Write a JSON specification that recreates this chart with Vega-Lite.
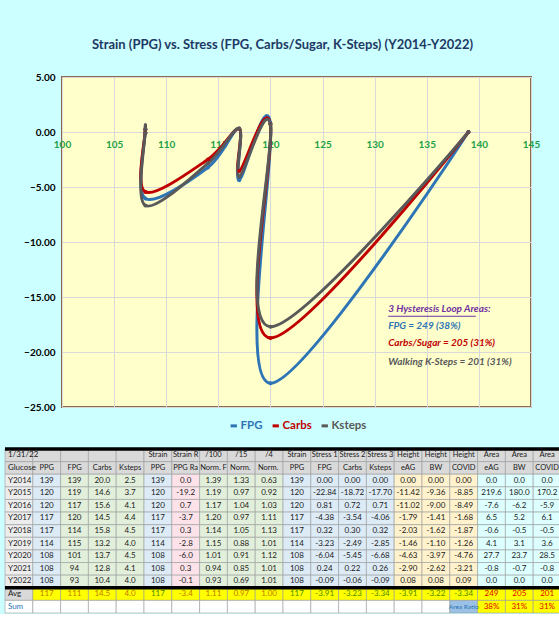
{
  "$schema": "https://vega.github.io/schema/vega-lite/v6.json",
  "background": "#CCFFFF",
  "padding": {"left": 3, "top": 38, "right": 0, "bottom": 0},
  "spacing": 14,
  "config": {"font": "Lato, Roboto, sans-serif", "view": {"stroke": null}},
  "resolve": {"scale": {"color": "independent", "fill": "independent"}, "legend": {"color": "independent", "fill": "independent"}},
  "datasets": {
    "curves": [
      {"series": "FPG", "year": 2014, "ppg": 139, "stress": 0.00},
      {"series": "FPG", "year": 2015, "ppg": 120, "stress": -22.84},
      {"series": "FPG", "year": 2016, "ppg": 120, "stress": 0.81},
      {"series": "FPG", "year": 2017, "ppg": 117, "stress": -4.38},
      {"series": "FPG", "year": 2018, "ppg": 117, "stress": 0.32},
      {"series": "FPG", "year": 2019, "ppg": 114, "stress": -3.23},
      {"series": "FPG", "year": 2020, "ppg": 108, "stress": -6.04},
      {"series": "FPG", "year": 2021, "ppg": 108, "stress": 0.24},
      {"series": "FPG", "year": 2022, "ppg": 108, "stress": -0.09},
      {"series": "Carbs", "year": 2014, "ppg": 139, "stress": 0.00},
      {"series": "Carbs", "year": 2015, "ppg": 120, "stress": -18.72},
      {"series": "Carbs", "year": 2016, "ppg": 120, "stress": 0.72},
      {"series": "Carbs", "year": 2017, "ppg": 117, "stress": -3.54},
      {"series": "Carbs", "year": 2018, "ppg": 117, "stress": 0.30},
      {"series": "Carbs", "year": 2019, "ppg": 114, "stress": -2.49},
      {"series": "Carbs", "year": 2020, "ppg": 108, "stress": -5.45},
      {"series": "Carbs", "year": 2021, "ppg": 108, "stress": 0.22},
      {"series": "Carbs", "year": 2022, "ppg": 108, "stress": -0.06},
      {"series": "Ksteps", "year": 2014, "ppg": 139, "stress": 0.00},
      {"series": "Ksteps", "year": 2015, "ppg": 120, "stress": -17.70},
      {"series": "Ksteps", "year": 2016, "ppg": 120, "stress": 0.71},
      {"series": "Ksteps", "year": 2017, "ppg": 117, "stress": -4.06},
      {"series": "Ksteps", "year": 2018, "ppg": 117, "stress": 0.32},
      {"series": "Ksteps", "year": 2019, "ppg": 114, "stress": -2.85},
      {"series": "Ksteps", "year": 2020, "ppg": 108, "stress": -6.68},
      {"series": "Ksteps", "year": 2021, "ppg": 108, "stress": 0.26},
      {"series": "Ksteps", "year": 2022, "ppg": 108, "stress": -0.09}
    ],
    "notes": [
      {"x": 131.3, "y": -17.6, "label": "FPG = 249 (38%)", "series": "FPG"},
      {"x": 131.3, "y": -19.2, "label": "Carbs/Sugar = 205 (31%)", "series": "Carbs"},
      {"x": 131.3, "y": -20.9, "label": "Walking K-Steps = 201 (31%)", "series": "Ksteps"}
    ],
    "heading": [{"x": 131.3, "y": -16.1, "label": "3 Hysteresis Loop Areas:"}],
    "underline": [{"x": 131.3, "x2": 139.7, "y": -16.75}],
    "lines": [{"r": 0, "cs": 1, "ce": 20}, {"r": 11, "cs": 1, "ce": 20}],
    "table": [
      {"r": 0, "c01": "1/31/22", "c02": "", "c03": "", "c04": "", "c05": "", "c06": "Strain", "c07": "Strain Rate", "c08": "/100", "c09": "/15", "c10": "/4", "c11": "Strain", "c12": "Stress 1", "c13": "Stress 2", "c14": "Stress 3", "c15": "Height", "c16": "Height", "c17": "Height", "c18": "Area", "c19": "Area", "c20": "Area"},
      {"r": 1, "c01": "Glucose", "c02": "PPG", "c03": "FPG", "c04": "Carbs", "c05": "Ksteps", "c06": "PPG", "c07": "PPG Rate", "c08": "Norm. FPG", "c09": "Norm. Carbs", "c10": "Norm. Ksteps", "c11": "PPG", "c12": "FPG", "c13": "Carbs", "c14": "Ksteps", "c15": "eAG", "c16": "BW", "c17": "COVID", "c18": "eAG", "c19": "BW", "c20": "COVID"},
      {"r": 2, "c01": "Y2014", "c02": "139", "c03": "139", "c04": "20.0", "c05": "2.5", "c06": "139", "c07": "0.0", "c08": "1.39", "c09": "1.33", "c10": "0.63", "c11": "139", "c12": "0.00", "c13": "0.00", "c14": "0.00", "c15": "0.00", "c16": "0.00", "c17": "0.00", "c18": "0.0", "c19": "0.0", "c20": "0.0"},
      {"r": 3, "c01": "Y2015", "c02": "120", "c03": "119", "c04": "14.6", "c05": "3.7", "c06": "120", "c07": "-19.2", "c08": "1.19", "c09": "0.97", "c10": "0.92", "c11": "120", "c12": "-22.84", "c13": "-18.72", "c14": "-17.70", "c15": "-11.42", "c16": "-9.36", "c17": "-8.85", "c18": "219.6", "c19": "180.0", "c20": "170.2"},
      {"r": 4, "c01": "Y2016", "c02": "120", "c03": "117", "c04": "15.6", "c05": "4.1", "c06": "120", "c07": "0.7", "c08": "1.17", "c09": "1.04", "c10": "1.03", "c11": "120", "c12": "0.81", "c13": "0.72", "c14": "0.71", "c15": "-11.02", "c16": "-9.00", "c17": "-8.49", "c18": "-7.6", "c19": "-6.2", "c20": "-5.9"},
      {"r": 5, "c01": "Y2017", "c02": "117", "c03": "120", "c04": "14.5", "c05": "4.4", "c06": "117", "c07": "-3.7", "c08": "1.20", "c09": "0.97", "c10": "1.11", "c11": "117", "c12": "-4.38", "c13": "-3.54", "c14": "-4.06", "c15": "-1.79", "c16": "-1.41", "c17": "-1.68", "c18": "6.5", "c19": "5.2", "c20": "6.1"},
      {"r": 6, "c01": "Y2018", "c02": "117", "c03": "114", "c04": "15.8", "c05": "4.5", "c06": "117", "c07": "0.3", "c08": "1.14", "c09": "1.05", "c10": "1.13", "c11": "117", "c12": "0.32", "c13": "0.30", "c14": "0.32", "c15": "-2.03", "c16": "-1.62", "c17": "-1.87", "c18": "-0.6", "c19": "-0.5", "c20": "-0.5"},
      {"r": 7, "c01": "Y2019", "c02": "114", "c03": "115", "c04": "13.2", "c05": "4.0", "c06": "114", "c07": "-2.8", "c08": "1.15", "c09": "0.88", "c10": "1.01", "c11": "114", "c12": "-3.23", "c13": "-2.49", "c14": "-2.85", "c15": "-1.46", "c16": "-1.10", "c17": "-1.26", "c18": "4.1", "c19": "3.1", "c20": "3.6"},
      {"r": 8, "c01": "Y2020", "c02": "108", "c03": "101", "c04": "13.7", "c05": "4.5", "c06": "108", "c07": "-6.0", "c08": "1.01", "c09": "0.91", "c10": "1.12", "c11": "108", "c12": "-6.04", "c13": "-5.45", "c14": "-6.68", "c15": "-4.63", "c16": "-3.97", "c17": "-4.76", "c18": "27.7", "c19": "23.7", "c20": "28.5"},
      {"r": 9, "c01": "Y2021", "c02": "108", "c03": "94", "c04": "12.8", "c05": "4.1", "c06": "108", "c07": "0.3", "c08": "0.94", "c09": "0.85", "c10": "1.01", "c11": "108", "c12": "0.24", "c13": "0.22", "c14": "0.26", "c15": "-2.90", "c16": "-2.62", "c17": "-3.21", "c18": "-0.8", "c19": "-0.7", "c20": "-0.8"},
      {"r": 10, "c01": "Y2022", "c02": "108", "c03": "93", "c04": "10.4", "c05": "4.0", "c06": "108", "c07": "-0.1", "c08": "0.93", "c09": "0.69", "c10": "1.01", "c11": "108", "c12": "-0.09", "c13": "-0.06", "c14": "-0.09", "c15": "0.08", "c16": "0.08", "c17": "0.09", "c18": "0.0", "c19": "0.0", "c20": "0.0"},
      {"r": 11, "c01": "Avg", "c02": "117", "c03": "111", "c04": "14.5", "c05": "4.0", "c06": "117", "c07": "-3.4", "c08": "1.11", "c09": "0.97", "c10": "1.00", "c11": "117", "c12": "-3.91", "c13": "-3.23", "c14": "-3.34", "c15": "-3.91", "c16": "-3.22", "c17": "-3.34", "c18": "249", "c19": "205", "c20": "201"},
      {"r": 12, "c01": "Sum", "c02": "", "c03": "", "c04": "", "c05": "", "c06": "", "c07": "", "c08": "", "c09": "", "c10": "", "c11": "", "c12": "", "c13": "", "c14": "", "c15": "", "c16": "", "c17": "Area Ratio", "c18": "38%", "c19": "31%", "c20": "31%"}
    ]
  },
  "vconcat": [
    {
      "width": 469,
      "height": 330,
      "view": {"fill": "#FFFFCC", "stroke": "#8B6B4B", "strokeWidth": 2},
      "title": {"text": "Strain (PPG) vs. Stress (FPG, Carbs/Sugar, K-Steps)  (Y2014-Y2022)", "fontSize": 13, "fontWeight": "bold", "color": "#1F3864", "anchor": "middle", "frame": "group", "dx": -14, "offset": 20},
      "layer": [
        {
          "data": {"name": "curves"},
          "mark": {"type": "line", "interpolate": "cardinal", "tension": 0, "strokeWidth": 3, "strokeJoin": "round", "strokeCap": "round", "point": {"filled": true, "size": 16}},
          "encoding": {
            "x": {"field": "ppg", "type": "quantitative", "scale": {"domain": [100, 145], "nice": false, "zero": false},
              "axis": {"orient": "bottom", "offset": -275, "values": [100, 105, 110, 115, 120, 125, 130, 135, 140, 145], "format": "d", "title": null, "ticks": false, "domain": false, "labelColor": "#22A045", "labelFontSize": 10, "labelFontWeight": "bold", "labelPadding": 7, "labelOverlap": false, "labelFlush": false, "grid": true, "gridColor": "#D9D9D9", "gridWidth": 1}},
            "y": {"field": "stress", "type": "quantitative", "scale": {"domain": [-25, 5], "nice": false, "zero": false},
              "axis": {"values": [-25, -20, -15, -10, -5, 0, 5], "format": ".2f", "title": null, "ticks": false, "domain": false, "labelColor": "#000000", "labelFontSize": 10, "labelFontWeight": "bold", "labelPadding": 7, "minExtent": 57, "maxExtent": 57, "grid": true, "gridColor": "#D9D9D9"}},
            "color": {"field": "series", "type": "nominal", "scale": {"domain": ["FPG", "Carbs", "Ksteps"], "range": ["#2E75B6", "#C00000", "#595959"]},
              "legend": {"orient": "none", "legendX": 166, "legendY": 343, "direction": "horizontal", "title": null, "labelFontSize": 11.5, "labelFontWeight": "bold", "symbolType": "stroke", "symbolStrokeWidth": 3, "symbolSize": 40, "columnPadding": 3, "labelOffset": 1,
                "encode": {"labels": {"update": {"fill": {"signal": "datum.value === 'FPG' ? '#2E75B6' : datum.value === 'Carbs' ? '#C00000' : '#595959'"}}}}}},
            "order": {"field": "year", "type": "quantitative"}
          }
        },
        {
          "data": {"name": "notes"},
          "mark": {"type": "text", "align": "left", "baseline": "middle", "fontStyle": "italic", "fontWeight": "bold", "fontSize": 10},
          "encoding": {
            "x": {"field": "x", "type": "quantitative"},
            "y": {"field": "y", "type": "quantitative"},
            "text": {"field": "label"},
            "color": {"field": "series", "type": "nominal"}
          }
        },
        {
          "data": {"name": "heading"},
          "mark": {"type": "text", "align": "left", "baseline": "middle", "fontStyle": "italic", "fontWeight": "bold", "fontSize": 10, "color": "#7030A0"},
          "encoding": {
            "x": {"field": "x", "type": "quantitative"},
            "y": {"field": "y", "type": "quantitative"},
            "text": {"field": "label"}
          }
        },
        {
          "data": {"name": "underline"},
          "mark": {"type": "rule", "color": "#7030A0", "strokeWidth": 1},
          "encoding": {
            "x": {"field": "x", "type": "quantitative"},
            "x2": {"field": "x2"},
            "y": {"field": "y", "type": "quantitative"}
          }
        }
      ]
    },
    {
      "width": 499,
      "height": 164,
      "layer": [
        {
          "data": {"name": "table"},
          "transform": [
            {"fold": ["c01", "c02", "c03", "c04", "c05", "c06", "c07", "c08", "c09", "c10", "c11", "c12", "c13", "c14", "c15", "c16", "c17", "c18", "c19", "c20"], "as": ["key", "t"]},
            {"calculate": "toNumber(substring(datum.key, 1))", "as": "c"},
            {"calculate": "datum.r <= 1 ? 'head' : datum.r == 11 ? (datum.c == 1 ? 'head' : 'avg') : datum.r == 12 ? (datum.c == 17 ? 'ratio' : datum.c >= 18 ? 'avg' : 'white') : datum.c == 1 ? 'label' : (datum.c == 2 || datum.c == 6 || (datum.c >= 11 && datum.c <= 14)) ? 'blue' : datum.c == 7 ? 'pink' : datum.c <= 10 ? 'green' : datum.c <= 17 ? 'yellow' : 'cyan'", "as": "bg"}
          ],
          "mark": {"type": "rect", "stroke": "#9A9A9A", "strokeWidth": 0.6},
          "encoding": {
            "x": {"field": "c", "type": "ordinal", "scale": {"paddingInner": 0, "paddingOuter": 0, "range": [-57, 499]}, "axis": null},
            "y": {"field": "r", "type": "ordinal", "scale": {"paddingInner": 0, "paddingOuter": 0}, "axis": null},
            "fill": {"field": "bg", "type": "nominal", "legend": null, "scale": {"domain": ["head", "label", "white", "blue", "green", "pink", "yellow", "cyan", "avg", "ratio"], "range": ["#D9D9D9", "#EDEDED", "#FFFFFF", "#DDEBF7", "#E2EFDA", "#FDE2EA", "#FFF2CC", "#DDFFFF", "#FFFF00", "#9BC2E6"]}}
          }
        },
        {
          "data": {"name": "table"},
          "transform": [
            {"fold": ["c01", "c02", "c03", "c04", "c05", "c06", "c07", "c08", "c09", "c10", "c11", "c12", "c13", "c14", "c15", "c16", "c17", "c18", "c19", "c20"], "as": ["key", "t"]},
            {"calculate": "toNumber(substring(datum.key, 1))", "as": "c"},
            {"calculate": "datum.r == 11 ? (datum.c == 1 ? 'black' : datum.c >= 18 ? 'red' : (datum.c == 6 || datum.c >= 11) ? 'green' : 'orange') : datum.r == 12 ? (datum.c >= 18 ? 'red' : 'blue') : 'black'", "as": "fg"},
            {"filter": "datum.c > 1"}
          ],
          "mark": {"type": "text", "baseline": "middle", "fontSize": {"expr": "datum.r <= 1 ? 7.5 : (datum.r == 12 && datum.c == 17) ? 6.5 : 8"}, "limit": {"expr": "datum.r == 12 ? 60 : 27"}, "ellipsis": "\u200b"},
          "encoding": {
            "x": {"field": "c", "type": "ordinal"},
            "y": {"field": "r", "type": "ordinal"},
            "text": {"field": "t"},
            "color": {"field": "fg", "type": "nominal", "legend": null, "scale": {"domain": ["black", "orange", "green", "red", "blue"], "range": ["#1A1A1A", "#C07800", "#4E8A00", "#E00000", "#2E75B6"]}}
          }
        },
        {
          "data": {"name": "table"},
          "transform": [
            {"fold": ["c01", "c02", "c03", "c04", "c05", "c06", "c07", "c08", "c09", "c10", "c11", "c12", "c13", "c14", "c15", "c16", "c17", "c18", "c19", "c20"], "as": ["key", "t"]},
            {"calculate": "toNumber(substring(datum.key, 1))", "as": "c"},
            {"calculate": "datum.r == 12 ? 'blue' : 'black'", "as": "fg"},
            {"filter": "datum.c == 1"}
          ],
          "mark": {"type": "text", "fontSize": 8, "baseline": "middle", "align": "left", "dx": -11},
          "encoding": {
            "x": {"field": "c", "type": "ordinal"},
            "y": {"field": "r", "type": "ordinal"},
            "text": {"field": "t"},
            "color": {"field": "fg", "type": "nominal", "legend": null}
          }
        },
        {
          "data": {"name": "lines"},
          "mark": {"type": "rule", "color": "#000000", "strokeWidth": 3.5},
          "encoding": {
            "x": {"field": "cs", "type": "ordinal", "bandPosition": 0},
            "x2": {"field": "ce", "bandPosition": 1},
            "y": {"field": "r", "type": "ordinal", "bandPosition": 0}
          }
        }
      ]
    }
  ]
}
